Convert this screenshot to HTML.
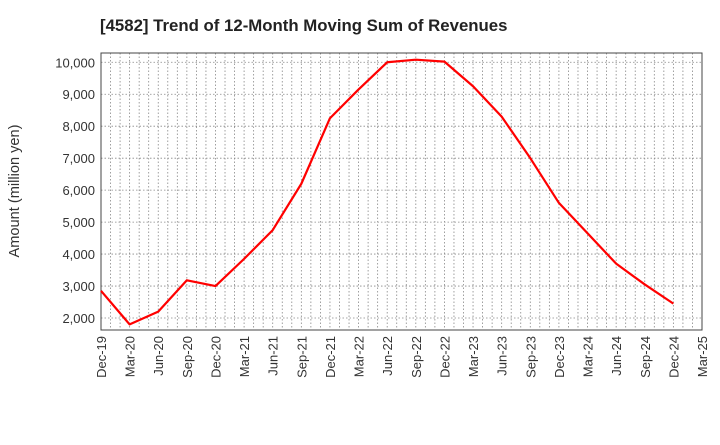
<!DOCTYPE html>
<html><head><meta charset="utf-8"><style>
body{margin:0;background:#fff;font-family:"Liberation Sans",sans-serif}
</style></head><body>
<svg id="c" width="720" height="440" xmlns="http://www.w3.org/2000/svg">
<text x="100" y="31" font-size="16.8" font-weight="bold" fill="#222">[4582]  Trend of 12-Month Moving Sum of Revenues</text>
<text transform="translate(19,191) rotate(-90)" text-anchor="middle" font-size="14.6" fill="#333">Amount (million yen)</text>
<g id="grid"></g><g id="axes"></g><g id="series"></g>
</svg>
<script>
const categories=["Dec-19","Mar-20","Jun-20","Sep-20","Dec-20","Mar-21","Jun-21","Sep-21","Dec-21","Mar-22","Jun-22","Sep-22","Dec-22","Mar-23","Jun-23","Sep-23","Dec-23","Mar-24","Jun-24","Sep-24","Dec-24","Mar-25"];
const revenues=[2850,1800,2200,3180,3000,3850,4750,6200,8250,9150,10000,10080,10020,9250,8300,7000,5600,4650,3700,3050,2450];
const yTicks=[2000,3000,4000,5000,6000,7000,8000,9000,10000];
const L=101,R=702,T=53,B=330,yMin=1625,yMax=10290;
const NS="http://www.w3.org/2000/svg";
const x=i=>L+i*(R-L)/(categories.length-1);
const y=v=>B-(v-yMin)/(yMax-yMin)*(B-T);
function mk(t,a,p){const e=document.createElementNS(NS,t);for(const k in a)e.setAttribute(k,a[k]);p.appendChild(e);return e;}
const g=document.getElementById('grid'),ax=document.getElementById('axes'),s=document.getElementById('series');
for(let m=1;m<(categories.length-1)*3;m++){const xx=L+m*(R-L)/((categories.length-1)*3);
const l=mk('line',{x1:xx,x2:xx,y1:T,y2:B,stroke:'#888','stroke-width':0.8,'stroke-dasharray':'1.5,2'},g);

}
yTicks.forEach(v=>{const l=mk('line',{x1:L,x2:R,y1:y(v),y2:y(v),stroke:'#888','stroke-width':0.8,'stroke-dasharray':'1.5,2'},g);


const t=mk('text',{x:L-6,y:y(v)+5,'text-anchor':'end','font-size':13,fill:'#333'},ax);t.textContent=v.toLocaleString('en-US');

});
categories.forEach((c,i)=>{const t=mk('text',{transform:`translate(${x(i)+5},${B+6}) rotate(-90)`,'text-anchor':'end','font-size':13,fill:'#333'},ax);t.textContent=c;

});
const f=mk('rect',{x:L,y:T,width:R-L,height:B-T,fill:'none',stroke:'#444','stroke-width':1},ax);


const p=mk('polyline',{points:revenues.map((v,i)=>x(i)+','+y(v)).join(' '),fill:'none',stroke:'#f00','stroke-width':2.2,'stroke-linejoin':'round'},s);


</script>
</body></html>
